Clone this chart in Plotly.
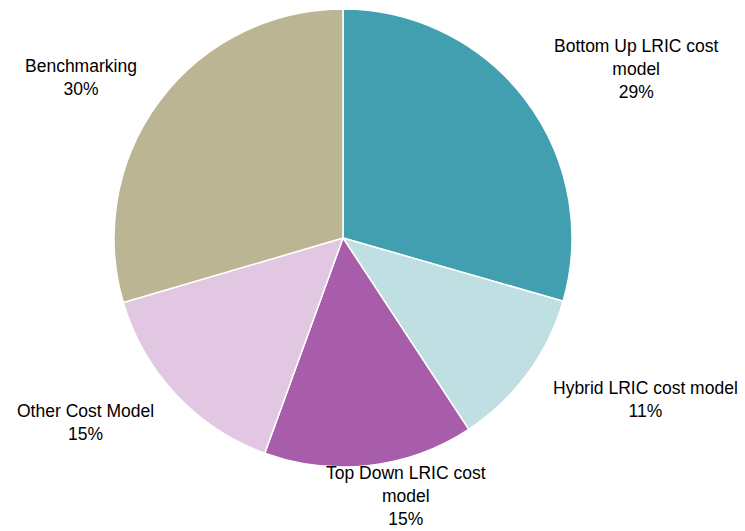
import plotly.graph_objects as go

categories = ["Bottom Up LRIC cost model", "Hybrid LRIC cost model", "Top Down LRIC cost model",
              "Other Cost Model", "Benchmarking"]
display_labels = ["Bottom Up LRIC cost<br>model", "Hybrid LRIC cost model", "Top Down LRIC cost<br>model",
                  "Other Cost Model", "Benchmarking"]
values = [29.45, 11.3, 14.8, 14.9, 29.55]
colors = ["#419FB0", "#BFDFE3", "#A85DAB", "#E2C7E3", "#BBB593"]

W, H = 745, 531
# label anchor positions in pixels (center of text block)
label_pos = [(636, 69), (645, 399), (406, 496), (85, 422), (81, 78)]

fig = go.Figure(go.Pie(
    labels=categories, values=values, sort=False, direction="clockwise", rotation=0,
    marker=dict(colors=colors, line=dict(color="white", width=1.5)),
    textinfo="none", hoverinfo="label+percent", showlegend=False,
    domain=dict(x=[114 / W, 572 / W], y=[1 - 467 / H, 1 - 9 / H]),
))

total = sum(values)
for lab, v, (px, py) in zip(display_labels, values, label_pos):
    fig.add_annotation(
        x=px / W, y=1 - py / H, xref="paper", yref="paper",
        text=f"{lab}<br>{round(v / total * 100)}%", showarrow=False,
        xanchor="center", yanchor="middle", align="center",
        font=dict(family="Liberation Sans, Arial, sans-serif", size=17.5, color="#000000"),
    )

fig.update_layout(
    width=W, height=H, margin=dict(l=0, r=0, t=0, b=0),
    paper_bgcolor="white", plot_bgcolor="white",
)
fig.write_html("out.html")
